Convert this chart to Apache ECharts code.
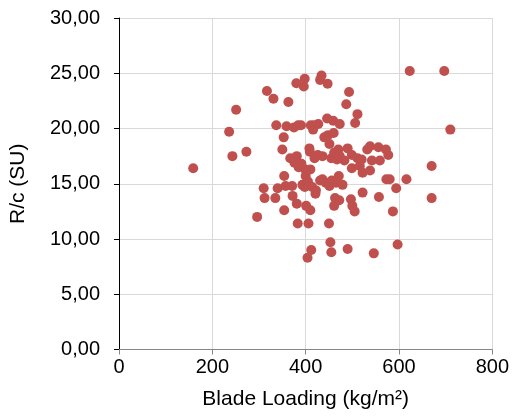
<!DOCTYPE html>
<html><head><meta charset="utf-8">
<script src="https://cdn.jsdelivr.net/npm/echarts@6/dist/echarts.min.js"></script>
<style>html,body{margin:0;padding:0;background:#fff}#c{width:512px;height:417px}</style>
</head><body><div id="c"></div>
<script>
const bladeLoading = [159,236,251,243,273,296,310,312,317,331,335,337,340,350,353,354,354,357,359,363,367,371,372,375,376,380,381,381,383,384,385,390,391,393,396,398,399,398,400,401,404,405,406,408,409,410,410,411,412,414,416,418,419,421,422,426,427,431,431,434,436,436,440,443,446,447,448,450,451,451,453,455,455,456,459,460,461,461,463,465,467,470,471,472,473,473,479,483,487,490,490,493,497,499,499,500,505,506,511,511,516,520,522,522,532,538,538,542,546,556,557,559,572,573,577,580,587,594,597,616,623,670,670,697,710];
const rcValues = [16.4,19.7,21.7,17.5,17.9,12.0,14.6,13.7,23.4,22.7,13.7,20.3,14.6,18.1,19.2,15.7,12.6,14.8,20.2,22.4,17.3,14.8,13.9,20.1,16.9,24.1,17.5,13.2,11.4,20.3,16.5,20.3,16.8,14.9,23.8,24.5,16.3,14.7,15.7,13.0,8.3,15.2,11.4,18.2,17.9,16.3,12.6,20.3,9.0,14.7,19.9,20.3,17.3,14.1,14.4,17.6,20.4,15.3,24.4,24.8,17.5,15.4,19.2,15.1,20.9,24.05,19.4,11.4,18.6,14.8,9.7,8.8,17.3,15.3,20.7,19.6,13.0,17.8,13.7,15.1,17.2,18.1,15.7,13.5,20.4,17.5,14.9,17.1,22.2,18.2,9.1,23.3,13.6,16.4,17.6,13.0,12.5,20.5,21.3,17.3,16.6,17.2,16.0,14.2,18.1,18.4,16.2,17.1,8.7,18.3,13.8,17.1,18.1,15.4,17.6,15.4,12.5,14.6,9.5,15.4,25.2,16.6,13.7,25.2,19.9];
const xTicks = [0,200,400,600,800];
const yTicks = [0,5,10,15,20,25,30];
const points = bladeLoading.map((x,i)=>[x, rcValues[i]]);
const chart = echarts.init(document.getElementById('c'), null, {renderer:'canvas'});
const font = 'Liberation Sans, Arial, sans-serif';
chart.setOption({
  animation:false,
  grid:{left:119, right:18, top:18, bottom:67.5, containLabel:false},
  xAxis:{type:'value', min:xTicks[0], max:xTicks[xTicks.length-1], interval:200,
    name:'Blade Loading (kg/m²)', nameLocation:'middle', nameGap:39,
    nameTextStyle:{fontFamily:font, fontSize:21, color:'#000'},
    axisLine:{show:true, onZero:false, lineStyle:{color:'#868686', width:1}},
    axisTick:{show:true, inside:false, length:5, lineStyle:{color:'#868686'}},
    axisLabel:{fontFamily:font, fontSize:20, color:'#000', margin:8},
    splitLine:{show:true, lineStyle:{color:'#D9D9D9', width:1}}},
  yAxis:{type:'value', min:yTicks[0], max:yTicks[yTicks.length-1], interval:5,
    name:'R/c (SU)', nameLocation:'middle', nameGap:90,
    nameTextStyle:{fontFamily:font, fontSize:21, color:'#000'},
    axisLine:{show:true, lineStyle:{color:'#000', width:1}},
    axisTick:{show:true, inside:false, length:5, lineStyle:{color:'#000'}},
    axisLabel:{fontFamily:font, fontSize:20, color:'#000', margin:19,
      formatter:v=>v.toFixed(2).replace('.',',')},
    splitLine:{show:true, lineStyle:{color:'#D9D9D9', width:1}}},
  series:[{type:'scatter', data:points, symbol:'circle', symbolSize:10,
    itemStyle:{color:'#C0504D', opacity:1}}]
});
</script></body></html>
